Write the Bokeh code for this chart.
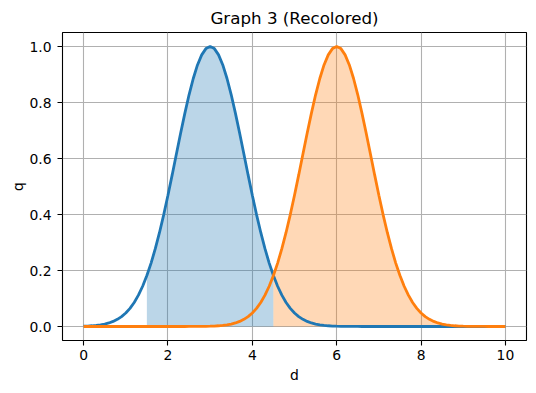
from bokeh.plotting import figure
from bokeh.models import Range1d, FixedTicker
from bokeh.embed import file_html
from bokeh.resources import INLINE

# x grid (0 .. 10, step 0.1)
d_values = [i / 10 for i in range(101)]

# blue curve (peak at d=3)
q_blue = [
    0.0011, 0.0017, 0.0026, 0.0040, 0.0060, 0.0088, 0.0127, 0.0182, 0.0256, 0.0354,
    0.0483, 0.0649, 0.0859, 0.1120, 0.1438, 0.1819, 0.2265, 0.2780, 0.3359, 0.3998,
    0.4688, 0.5414, 0.6158, 0.6899, 0.7613, 0.8275, 0.8858, 0.9341, 0.9702, 0.9925,
    1.0000, 0.9925, 0.9702, 0.9341, 0.8858, 0.8275, 0.7613, 0.6899, 0.6158, 0.5414,
    0.4688, 0.3998, 0.3359, 0.2780, 0.2265, 0.1819, 0.1438, 0.1120, 0.0859, 0.0649,
    0.0483, 0.0354, 0.0256, 0.0182, 0.0127, 0.0088, 0.0060, 0.0040, 0.0026, 0.0017,
    0.0011, 0.0007, 0.0004, 0.0003, 0.0002, 0.0001, 0.0, 0.0, 0.0, 0.0,
    0.0, 0.0, 0.0, 0.0, 0.0, 0.0, 0.0, 0.0, 0.0, 0.0,
    0.0, 0.0, 0.0, 0.0, 0.0, 0.0, 0.0, 0.0, 0.0, 0.0,
    0.0, 0.0, 0.0, 0.0, 0.0, 0.0, 0.0, 0.0, 0.0, 0.0,
    0.0,
]

# orange curve (peak at d=6)
q_orange = [
    0.0, 0.0, 0.0, 0.0, 0.0, 0.0, 0.0, 0.0, 0.0, 0.0,
    0.0, 0.0, 0.0, 0.0, 0.0, 0.0, 0.0, 0.0, 0.0, 0.0,
    0.0, 0.0, 0.0, 0.0, 0.0, 0.0001, 0.0002, 0.0003, 0.0004, 0.0007,
    0.0011, 0.0017, 0.0026, 0.0040, 0.0060, 0.0088, 0.0127, 0.0182, 0.0256, 0.0354,
    0.0483, 0.0649, 0.0859, 0.1120, 0.1438, 0.1819, 0.2265, 0.2780, 0.3359, 0.3998,
    0.4688, 0.5414, 0.6158, 0.6899, 0.7613, 0.8275, 0.8858, 0.9341, 0.9702, 0.9925,
    1.0000, 0.9925, 0.9702, 0.9341, 0.8858, 0.8275, 0.7613, 0.6899, 0.6158, 0.5414,
    0.4688, 0.3998, 0.3359, 0.2780, 0.2265, 0.1819, 0.1438, 0.1120, 0.0859, 0.0649,
    0.0483, 0.0354, 0.0256, 0.0182, 0.0127, 0.0088, 0.0060, 0.0040, 0.0026, 0.0017,
    0.0011, 0.0007, 0.0004, 0.0003, 0.0002, 0.0001, 0.0, 0.0, 0.0, 0.0,
    0.0,
]

# shaded intervals (index range into d_values)
blue_fill_start, blue_fill_end = 15, 45      # d = 1.5 .. 4.5
orange_fill_start, orange_fill_end = 45, 100  # d = 4.5 .. 10

x_ticks = [0, 2, 4, 6, 8, 10]
y_ticks = [0.0, 0.2, 0.4, 0.6, 0.8, 1.0]
y_tick_labels = {0.0: "0.0", 0.2: "0.2", 0.4: "0.4", 0.6: "0.6", 0.8: "0.8", 1.0: "1.0"}

BLUE = "#1f77b4"
ORANGE = "#ff7f0e"
FONT = "DejaVu Sans"

p = figure(width=528, height=393, output_backend="svg", toolbar_location=None,
           x_range=Range1d(-0.5, 10.5), y_range=Range1d(-0.05, 1.05),
           min_border_left=62, min_border_right=2, min_border_top=25, min_border_bottom=53,
           title="Graph 3 (Recolored)")

p.title.text_font = FONT
p.title.text_font_size = "16.7px"
p.title.text_font_style = "normal"
p.title.align = "center"
p.title.text_color = "black"

p.outline_line_color = "black"
p.outline_line_width = 1.1
p.background_fill_color = "white"
p.border_fill_color = "white"

for ax in (p.xaxis[0], p.yaxis[0]):
    ax.axis_line_color = None
    ax.major_tick_out = 5
    ax.major_tick_in = 0
    ax.major_tick_line_width = 1.1
    ax.major_tick_line_color = "black"
    ax.minor_tick_line_color = None
    ax.major_label_text_font = FONT
    ax.major_label_text_font_size = "13.9px"
    ax.major_label_text_color = "black"
    ax.axis_label_text_font = FONT
    ax.axis_label_text_font_size = "13.9px"
    ax.axis_label_text_font_style = "normal"
    ax.axis_label_text_color = "black"

p.xaxis.ticker = FixedTicker(ticks=x_ticks)
p.yaxis.ticker = FixedTicker(ticks=y_ticks)
p.yaxis.major_label_overrides = y_tick_labels
p.xaxis.axis_label = "d"
p.yaxis.axis_label = "q"
p.xaxis.major_label_standoff = 4
p.yaxis.major_label_standoff = 6
p.xaxis.axis_label_standoff = 4
p.yaxis.axis_label_standoff = 0

for g in (p.xgrid[0], p.ygrid[0]):
    g.grid_line_color = "#b0b0b0"
    g.grid_line_width = 1.1

p.varea(x=d_values[blue_fill_start:blue_fill_end + 1], y1=0,
        y2=q_blue[blue_fill_start:blue_fill_end + 1],
        fill_color=BLUE, fill_alpha=0.3)
p.varea(x=d_values[orange_fill_start:orange_fill_end + 1], y1=0,
        y2=q_orange[orange_fill_start:orange_fill_end + 1],
        fill_color=ORANGE, fill_alpha=0.3)

p.line(d_values, q_blue, line_color=BLUE, line_width=2.8)
p.line(d_values, q_orange, line_color=ORANGE, line_width=2.8)

open("out.html", "w").write(file_html(p, INLINE))
